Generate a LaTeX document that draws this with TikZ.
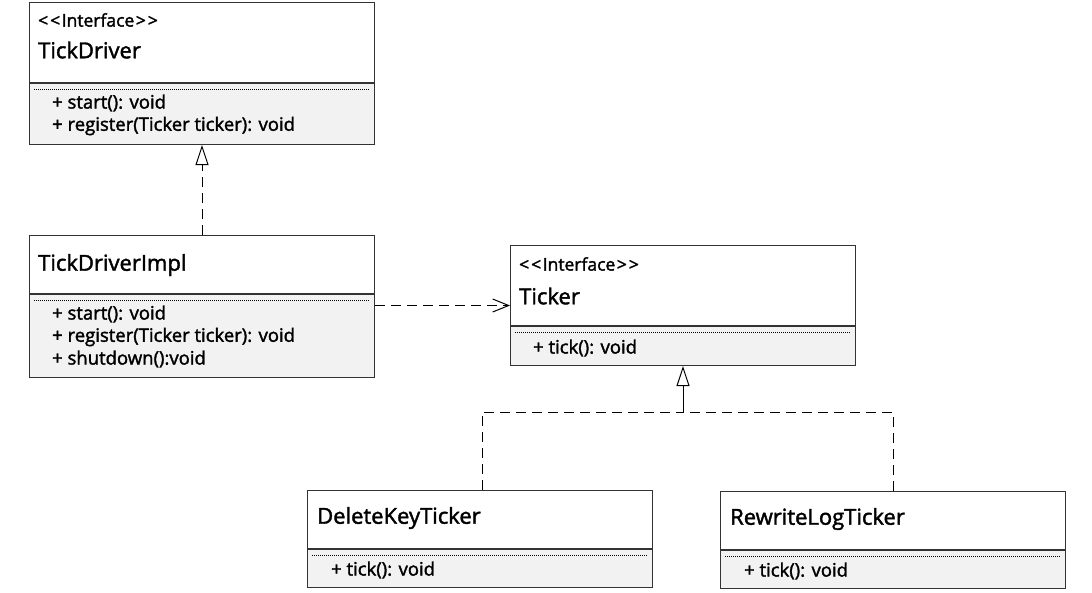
\documentclass[tikz,border=0pt]{standalone}
\usepackage{fontspec}
\setmainfont{Open Sans}[FakeBold=1.8]
\usetikzlibrary{positioning,arrows.meta}
\definecolor{bodygray}{HTML}{F2F2F2}
\definecolor{edgegray}{HTML}{333333}
\tikzset{
  classhead/.style={draw=edgegray, line width=1pt, fill=white, minimum width=345pt, anchor=north west, inner sep=0pt},
  classbody/.style={draw=edgegray, line width=1pt, fill=bodygray, minimum width=345pt, anchor=north, inner sep=0pt},
  stereo/.style={anchor=west, inner sep=0pt, font=\fontsize{17.5}{20}\selectfont},
  cname/.style={anchor=west, inner sep=0pt, font=\fontsize{22}{26}\selectfont},
  member/.style={anchor=west, inner sep=0pt, font=\fontsize{18.5}{22}\selectfont},
  sepline/.style={line width=0.6pt, dash pattern=on 1pt off 1pt},
  realize/.style={line width=1pt, -{Triangle[open, length=20pt, width=13pt]}},
  dashline/.style={line width=1pt, dash pattern=on 10pt off 6pt},
  depend/.style={line width=1pt, dash pattern=on 10pt off 6pt, -{Straight Barb[length=16pt, width=13pt]}}
}
\newcommand{\ifacetag}{{<}\kern2pt{<}\kern1.5pt Interface\kern1.5pt{>}\kern2pt{>}}
\begin{document}
\begin{tikzpicture}[x=1pt, y=-1pt]
  \useasboundingbox (0,0) rectangle (1092,592);
  % TickDriver
  \node[classhead, minimum height=80pt] (tdhead) at (29,2) {};
  \node[classbody, minimum height=61pt] (tdbody) at (tdhead.south) {};
  \draw[sepline] (34,89) -- (369,89);
  \node[stereo] (tdst) at (38,20) {\ifacetag};
  \node[cname] (tdname) at (38,50) {TickDriver};
  \node[member] (tdm1) at (52,103) {+ start(): void};
  \node[member] (tdm2) at (52,126) {+ register(Ticker ticker): void};
  % TickDriverImpl
  \node[classhead, minimum height=58pt] (tdihead) at (29,235) {};
  \node[classbody, minimum height=83pt] (tdibody) at (tdihead.south) {};
  \draw[sepline] (34,300) -- (369,300);
  \node[cname] (tdiname) at (38,265) {TickDriverImpl};
  \node[member] (tdim1) at (52,314) {+ start(): void};
  \node[member] (tdim2) at (52,337) {+ register(Ticker ticker): void};
  \node[member] (tdim3) at (52,359) {+ shutdown():void};
  % Ticker
  \node[classhead, minimum height=80pt] (tkhead) at (510,245) {};
  \node[classbody, minimum height=39pt] (tkbody) at (tkhead.south) {};
  \draw[sepline] (515,332) -- (850,332);
  \node[stereo] (tkst) at (519,264) {\ifacetag};
  \node[cname] (tkname) at (519,296) {Ticker};
  \node[member] (tkm1) at (533,348) {+ tick(): void};
  % DeleteKeyTicker
  \node[classhead, minimum height=58pt] (dkhead) at (307,490) {};
  \node[classbody, minimum height=38pt] (dkbody) at (dkhead.south) {};
  \draw[sepline] (312,555) -- (648,555);
  \node[cname] (dkname) at (317,518) {DeleteKeyTicker};
  \node[member] (dkm1) at (331,570) {+ tick(): void};
  % RewriteLogTicker
  \node[classhead, minimum height=58pt] (rlhead) at (720,491) {};
  \node[classbody, minimum height=38pt] (rlbody) at (rlhead.south) {};
  \draw[sepline] (725,556) -- (1061,556);
  \node[cname] (rlname) at (730,519) {RewriteLogTicker};
  \node[member] (rlm1) at (744,571) {+ tick(): void};
  % connectors
  \coordinate (tdjoin) at (202,235);
  \draw[dashline] (tdjoin) -- (202,165);
  \draw[realize] (202,166) -- (tdbody.south -| tdjoin);
  \coordinate (tkarrow) at ([yshift=-20pt]tkhead.west);
  \draw[depend] (tdibody.east |- tkarrow) -- (tkarrow);
  \coordinate (tkjoin) at (683,412);
  \draw[dashline] (dkhead.north -| 482,0) |- (tkjoin);
  \draw[dashline] (rlhead.north -| 893,0) |- (tkjoin);
  \draw[realize] (tkjoin) -- (tkbody.south -| tkjoin);
\end{tikzpicture}
\end{document}
